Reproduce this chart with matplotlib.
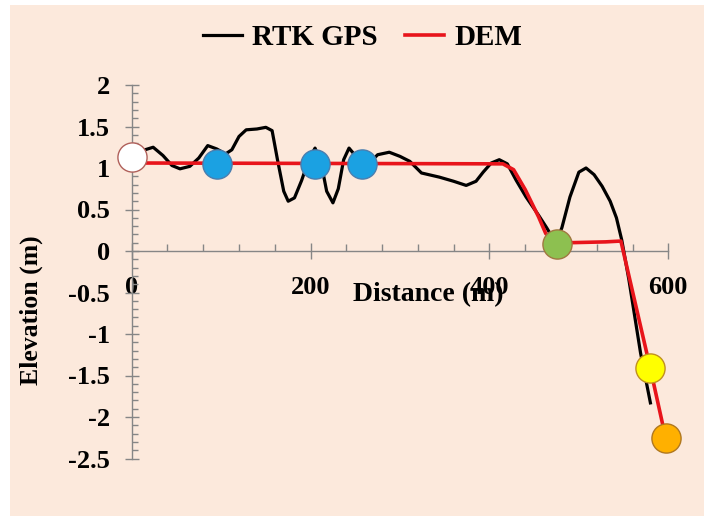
import numpy as np
import matplotlib
matplotlib.use("Agg")
import matplotlib.pyplot as plt
from matplotlib.ticker import MultipleLocator, FuncFormatter
from matplotlib.patches import Rectangle

plt.rcParams['font.family'] = ['Liberation Serif', 'DejaVu Serif']
plt.rcParams['font.weight'] = 'bold'
plt.rcParams['axes.unicode_minus'] = False

# RTK GPS profile (distance m, elevation m)
rtk_x = [5, 15, 24, 35, 45, 54, 65, 75, 85, 95, 105, 112, 120, 128, 140, 150,
         157, 163, 170, 175, 182, 190, 198, 205, 212, 218, 225, 231, 237, 243,
         250, 257, 265, 275, 288, 300, 311, 324, 344, 360, 374, 385, 393, 402,
         411, 420, 430, 441, 455, 464, 474, 481, 490, 500, 508, 517, 526, 535,
         542, 548, 556, 569, 580]
rtk_y = [1.12, 1.22, 1.25, 1.15, 1.03, 0.99, 1.02, 1.12, 1.27, 1.23, 1.17, 1.22,
         1.38, 1.46, 1.47, 1.49, 1.45, 1.10, 0.72, 0.60, 0.64, 0.85, 1.10, 1.24,
         1.05, 0.72, 0.58, 0.75, 1.10, 1.24, 1.15, 1.02, 1.05, 1.16, 1.19, 1.14,
         1.08, 0.94, 0.89, 0.84, 0.79, 0.84, 0.95, 1.06, 1.10, 1.05, 0.85, 0.65,
         0.43, 0.28, 0.10, 0.28, 0.65, 0.95, 1.00, 0.92, 0.78, 0.60, 0.40, 0.13,
         -0.35, -1.23, -1.83]

# DEM profile
dem_x = [0, 12, 415, 427, 440, 455, 463, 475, 490, 530, 547, 580, 597]
dem_y = [1.12, 1.06, 1.05, 0.98, 0.74, 0.41, 0.21, 0.10, 0.10, 0.11, 0.12, -1.42, -2.25]

# highlighted points
pt_x = [0, 95, 205, 257, 475, 580, 597]
pt_y = [1.13, 1.05, 1.05, 1.05, 0.09, -1.41, -2.25]
pt_face = ['#FFFFFF', '#1BA1E2', '#1BA1E2', '#1BA1E2', '#8DC050', '#FFFF00', '#FFB000']
pt_edge = ['#B0605A', '#4A7EAF', '#4A7EAF', '#4A7EAF', '#A07840', '#C09020', '#B07820']

fig = plt.figure(figsize=(7.04, 5.18), dpi=100)
fig.patch.set_facecolor('white')
fig.patches.append(Rectangle((10/704, 2/518), 1 - 10/704, 511/518,
                             transform=fig.transFigure, facecolor='#FCE9DC',
                             edgecolor='none', zorder=-10))

ax = fig.add_axes([131.7/704, 1 - 458.5/518, 536.6/704, 373.5/518])
ax.patch.set_alpha(0)

ax.plot(rtk_x, rtk_y, color='black', lw=2.3, label='RTK GPS', zorder=3)
ax.plot(dem_x, dem_y, color='#E8141B', lw=2.6, label='DEM', zorder=4)
for x, y, fc, ec in zip(pt_x, pt_y, pt_face, pt_edge):
    ax.plot(x, y, 'o', ms=21, mfc=fc, mec=ec, mew=1.0, zorder=5, clip_on=False)

ax.set_xlim(0, 600)
ax.set_ylim(-2.5, 2)

for s in ['top', 'right']:
    ax.spines[s].set_visible(False)
ax.spines['bottom'].set_position(('data', 0))
ax.spines['left'].set_position(('data', 0))
for s in ['bottom', 'left']:
    ax.spines[s].set_color('#868686')
    ax.spines[s].set_linewidth(1.0)

ax.xaxis.set_major_locator(MultipleLocator(200))
ax.xaxis.set_minor_locator(MultipleLocator(40))
ax.yaxis.set_major_locator(MultipleLocator(0.5))
ax.yaxis.set_minor_locator(MultipleLocator(0.1))
ax.yaxis.set_major_formatter(FuncFormatter(lambda v, p: '%g' % v))

ax.tick_params(axis='x', which='major', direction='inout', length=12, width=1,
               color='#868686', pad=12, labelsize=19)
ax.tick_params(axis='x', which='minor', direction='in', length=5, width=1,
               color='#868686')
ax.tick_params(axis='y', which='major', direction='inout', length=9.4, width=1,
               color='#868686', pad=11, labelsize=19)
ax.tick_params(axis='y', which='minor', direction='in', length=4, width=1,
               color='#868686')

ax.set_xlabel('Distance (m)', fontsize=20, fontweight='bold')
ax.xaxis.set_label_coords(0.552, 0.438)
ax.xaxis.label.set_va('center')
ax.set_ylabel('Elevation (m)', fontsize=18.5, fontweight='bold')
ax.yaxis.set_label_coords(-0.187, 0.398)
ax.yaxis.label.set_va('center')

fig.legend(loc='center', bbox_to_anchor=(0.515, 0.927), ncol=2, frameon=False,
           prop={'size': 21, 'weight': 'bold'}, handlelength=1.33,
           handletextpad=0.35, columnspacing=0.95)

fig.savefig('out.png', dpi=100)
